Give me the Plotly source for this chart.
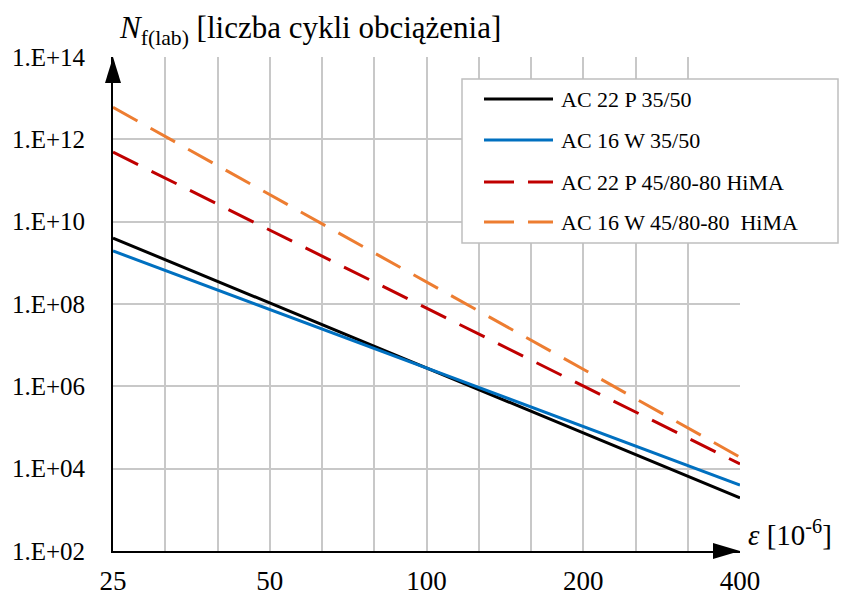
import plotly.graph_objects as go

# Strain levels [10^-6] and fatigue life N_f(lab) for each mix
eps = [25, 50, 100, 200, 400]
n_ac22p = [4.0e9, 1.07e8, 2.8e6, 7.4e4, 1.95e3]
n_ac16w = [1.95e9, 7.4e7, 2.75e6, 1.05e5, 4.0e3]
n_ac22p_hima = [4.9e11, 6.3e9, 8.0e7, 1.02e6, 1.3e4]
n_ac16w_hima = [6.0e12, 4.6e10, 3.4e8, 2.6e6, 1.9e4]

series_names = ["AC 22 P 35/50", "AC 16 W 35/50",
                "AC 22 P 45/80-80 HiMA", "AC 16 W 45/80-80  HiMA"]
series_values = [n_ac22p, n_ac16w, n_ac22p_hima, n_ac16w_hima]
series_colors = ["#000000", "#0070C0", "#C00000", "#ED7D31"]
series_dash = ["solid", "solid", "28px,15px", "28px,15px"]

# Labelled strain ticks (every octave) and extra grid lines every 1/3 octave
x_ticks = [25, 50, 100, 200, 400]
x_tick_labels = ["25", "50", "100", "200", "400"]
x_minor_grid = [25 * 2 ** (k / 3) for k in range(13) if k % 3]
y_ticks = [1e2, 1e4, 1e6, 1e8, 1e10, 1e12, 1e14]
y_tick_labels = ["1.E+02", "1.E+04", "1.E+06", "1.E+08", "1.E+10", "1.E+12", "1.E+14"]

W, H = 850, 595
L, R, T, B = 113, 110, 57, 44
PW, PH = W - L - R, H - T - B


def px(xp):
    return (xp - L) / PW


def py(yp):
    return (H - B - yp) / PH


FONT = "Liberation Serif"
GRID = "#C8C8C8"

fig = go.Figure()
for name, vals, col, dash in zip(series_names, series_values, series_colors, series_dash):
    fig.add_trace(go.Scatter(x=eps, y=vals, mode="lines", name=name,
                             line=dict(color=col, width=3, dash=dash),
                             showlegend=False))

shapes = []
annotations = []

# Arrowheads on the axes
shapes.append(dict(type="path", xref="paper", yref="paper", line=dict(width=0),
                   fillcolor="black",
                   path=f"M {px(105)} {py(83)} L {px(113)} {py(57)} L {px(121)} {py(83)} Z"))
shapes.append(dict(type="path", xref="paper", yref="paper", line=dict(width=0),
                   fillcolor="black",
                   path=f"M {px(713)} {py(543)} L {px(740)} {py(551)} L {px(713)} {py(559)} Z"))

# Legend box
shapes.append(dict(type="rect", xref="paper", yref="paper",
                   x0=px(462), x1=px(838), y0=py(243), y1=py(79),
                   fillcolor="white", line=dict(color="#BFBFBF", width=1.5), layer="above"))
legend_y = [99, 140, 182, 222]
for name, col, dash, yc in zip(series_names, series_colors, series_dash, legend_y):
    if dash == "solid":
        segs = [(484, 553)]
    else:
        segs = [(484, 514), (528, 553)]
    for a, b in segs:
        shapes.append(dict(type="line", xref="paper", yref="paper",
                           x0=px(a), x1=px(b), y0=py(yc), y1=py(yc),
                           line=dict(color=col, width=3), layer="above"))
    annotations.append(dict(xref="paper", yref="paper", x=px(559), y=py(yc),
                            text=name, showarrow=False, xanchor="left", yanchor="middle",
                            font=dict(family=FONT, size=22, color="black")))

# Axis titles
annotations.append(dict(xref="paper", yref="paper", x=px(117), y=py(30),
                        text="<i>N</i><sub>f(lab)</sub> [liczba cykli obciążenia]",
                        showarrow=False, xanchor="left", yanchor="middle",
                        font=dict(family=FONT, size=31, color="black")))
annotations.append(dict(xref="paper", yref="paper", x=px(746), y=py(533),
                        text="<i>ε</i> [10<sup>-6</sup>]",
                        showarrow=False, xanchor="left", yanchor="middle",
                        font=dict(family=FONT, size=29, color="black")))

fig.update_layout(
    width=W, height=H,
    margin=dict(l=L, r=R, t=T, b=B, pad=0, autoexpand=False),
    paper_bgcolor="white", plot_bgcolor="white",
    font=dict(family=FONT, size=22, color="black"),
    shapes=shapes, annotations=annotations,
    xaxis=dict(type="log", range=[1.397940, 2.602060], automargin=False,
               tickvals=x_ticks, ticktext=x_tick_labels, ticks="",
               showgrid=True, gridcolor=GRID, gridwidth=1.5,
               minor=dict(tickvals=x_minor_grid, showgrid=True, gridcolor=GRID,
                          gridwidth=1.5, ticks=""),
               showline=True, linecolor="black", linewidth=2,
               tickfont=dict(family=FONT, size=27), ticklabelstandoff=5),
    yaxis=dict(type="log", range=[1.999, 14.002], automargin=False,
               tickvals=y_ticks, ticktext=y_tick_labels, ticks="",
               showgrid=True, gridcolor=GRID, gridwidth=1.5,
               showline=True, linecolor="black", linewidth=2,
               tickfont=dict(family=FONT, size=25), ticklabelstandoff=21),
)

fig.write_html("out.html")
